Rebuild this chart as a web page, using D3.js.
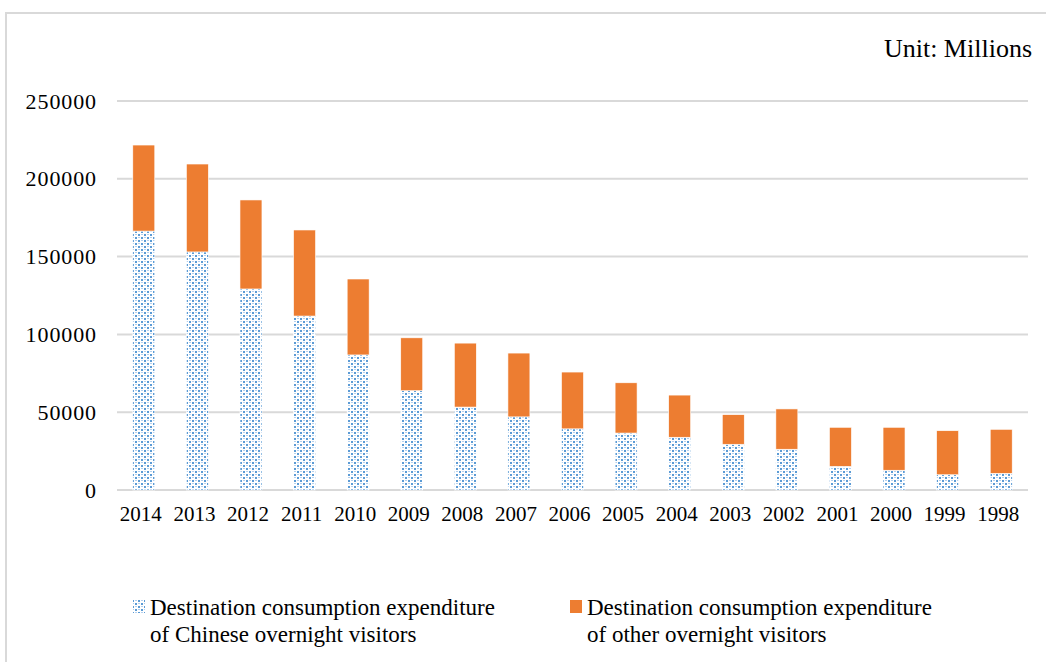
<!DOCTYPE html>
<html>
<head>
<meta charset="UTF-8">
<script src="https://d3js.org/d3.v7.min.js"></script>
<style>
  body { margin: 0; background: #fff; }
  svg text { font-family: "Liberation Serif", "Times New Roman", Times, serif; fill: #000; }
</style>
</head>
<body>
<div id="chart"></div>
<script>
// Data (millions)
const years = ["2014","2013","2012","2011","2010","2009","2008","2007","2006","2005","2004","2003","2002","2001","2000","1999","1998"];
const chinese = [166400,153000,129200,111800,86800,63800,53300,47000,39300,36600,33900,29400,26200,15200,12700,9800,10700];
const totals  = [221700,209500,186400,167100,135600,97800,94400,88000,75800,68900,61000,48400,52100,40300,40300,38100,39000];
const other = totals.map((t, i) => t - chinese[i]);
const yTicks = [0, 50000, 100000, 150000, 200000, 250000];
const legendLabels = [
  ["Destination consumption expenditure", "of Chinese overnight visitors"],
  ["Destination consumption expenditure", "of other overnight visitors"]
];

const W = 1046, H = 662;
const svg = d3.select("#chart").append("svg").attr("width", W).attr("height", H);

// dotted fill pattern
const defs = svg.append("defs");
const pat = defs.append("pattern").attr("id", "dots")
  .attr("patternUnits", "userSpaceOnUse").attr("width", 6).attr("height", 6);
pat.append("rect").attr("width", 6).attr("height", 6).attr("fill", "#fff");
pat.append("rect").attr("x", 0).attr("y", 0).attr("width", 2).attr("height", 2).attr("fill", "#5b9bd5");
pat.append("rect").attr("x", 3).attr("y", 3).attr("width", 2).attr("height", 2).attr("fill", "#5b9bd5");
pat.append("rect").attr("x", 3).attr("y", 0).attr("width", 2).attr("height", 1).attr("fill", "#b4d0ee");
pat.append("rect").attr("x", 0).attr("y", 3).attr("width", 2).attr("height", 1).attr("fill", "#b4d0ee");

// frame
svg.append("path").attr("d", `M6,${H} V13 H${W}`)
  .attr("fill", "none").attr("stroke", "#d9d9d9").attr("stroke-width", 2);

const x = d3.scaleBand().domain(years).range([117, 1028]).paddingInner(0.59).paddingOuter(0.295);
const y = d3.scaleLinear().domain([0, 250000]).range([490, 101]);

// gridlines
svg.append("g").selectAll("line").data(yTicks).join("line")
  .attr("x1", 117).attr("x2", 1028)
  .attr("y1", d => y(d)).attr("y2", d => y(d))
  .attr("stroke", "#d9d9d9").attr("stroke-width", 2);

// y axis labels
const yAxis = d3.axisLeft(y).tickValues(yTicks).tickSize(0).tickPadding(0).tickFormat(d3.format("d"));
const gy = svg.append("g").attr("transform", "translate(97,0)").call(yAxis);
gy.attr("font-family", null);
gy.select(".domain").remove();
gy.selectAll("text").attr("font-size", 22).attr("letter-spacing", "0.9px");

// x axis labels
const xAxis = d3.axisBottom(x).tickSize(0).tickPadding(0);
const gx = svg.append("g").attr("transform", "translate(-3,506)").call(xAxis);
gx.attr("font-family", null);
gx.select(".domain").remove();
gx.selectAll("text").attr("font-size", 21);

// stacked bars
const stack = d3.stack().keys(["chinese", "other"]);
const rows = years.map((yr, i) => ({ year: yr, chinese: chinese[i], other: other[i] }));
const series = stack(rows);
const fills = ["url(#dots)", "#ed7d31"];

svg.append("g").selectAll("g").data(series).join("g")
  .attr("fill", (d, i) => fills[i])
  .selectAll("rect").data(d => d).join("rect")
  .attr("x", d => x(d.data.year))
  .attr("width", x.bandwidth())
  .attr("y", d => y(d[1]))
  .attr("height", d => y(d[0]) - y(d[1]))
  .attr("stroke", "#fff").attr("stroke-width", 0.6);

// unit label
svg.append("text").attr("x", 1032).attr("y", 57).attr("text-anchor", "end")
  .attr("font-size", 26).text("Unit: Millions");

// legend
const legX = [133, 570];
const lg = svg.append("g");
legendLabels.forEach((lines, i) => {
  lg.append("rect").attr("x", legX[i]).attr("y", 600).attr("width", 12).attr("height", 13)
    .attr("fill", fills[i]);
  lines.forEach((t, j) => {
    lg.append("text").attr("x", legX[i] + 17).attr("y", 615 + j * 27)
      .attr("font-size", 23).text(t);
  });
});
</script>
</body>
</html>
